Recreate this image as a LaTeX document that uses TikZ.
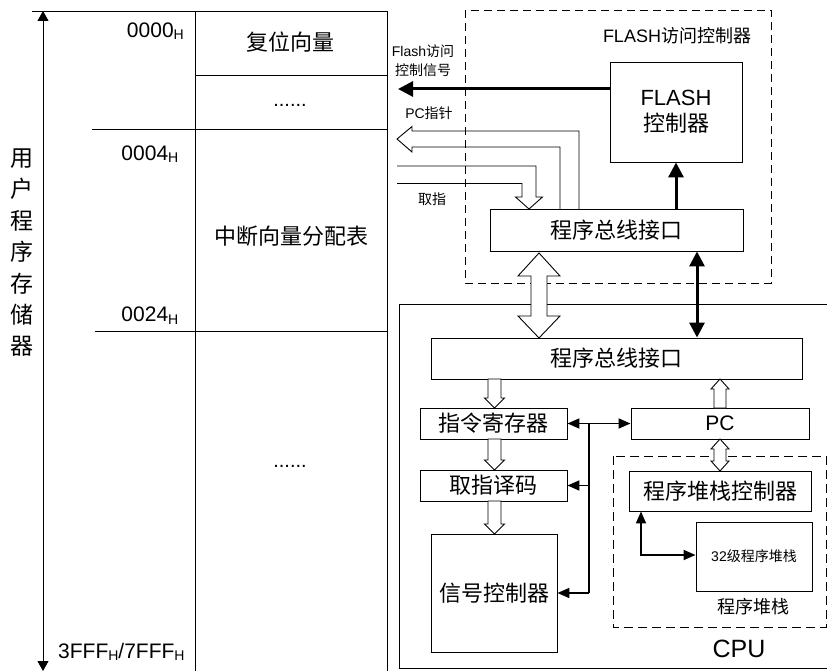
\documentclass[tikz,border=0pt]{standalone}
\usepackage{fontspec}
\setmainfont{Liberation Sans}
\newfontfamily\cjk{Noto Sans CJK SC}
\usetikzlibrary{arrows.meta,calc}
\newcommand\fs[1]{\fontsize{#1}{#1}\selectfont}
\newcommand\subH{\raisebox{-2.5pt}{\fs{14}H}}
\newcommand\myhdown[3]{\draw[hollowf] (#1-6.5,#2) -- (#1-6.5,#3-10) -- (#1-10,#3-10) -- (#1,#3) -- (#1+10,#3-10) -- (#1+6.5,#3-10) -- (#1+6.5,#2) -- cycle;}
\newcommand\myhup[3]{\draw[hollowf] (#1-6,#2) -- (#1-6,#3+10) -- (#1-9,#3+10) -- (#1,#3) -- (#1+9,#3+10) -- (#1+6,#3+10) -- (#1+6,#2) -- cycle;}
\begin{document}
\begin{tikzpicture}[x=1pt,y=-1pt,
  box/.style={draw, line width=0.9pt, fill=white, inner sep=0pt, align=center},
  cn/.style={font=\cjk\fs{22}},
  lbl/.style={inner sep=0pt},
  dashbox/.style={draw, line width=0.9pt, dash pattern=on 8pt off 5pt},
  thin/.style={line width=0.9pt},
  thk/.style={line width=3pt, -{Triangle[length=15pt,width=15pt]}},
  thkboth/.style={line width=3pt, {Triangle[length=15pt,width=15pt]}-{Triangle[length=15pt,width=15pt]}},
  bus/.style={line width=1.8pt, -{Triangle[length=12pt,width=10pt]}},
  busboth/.style={line width=1.8pt, {Triangle[length=12pt,width=10pt]}-{Triangle[length=12pt,width=10pt]}},
  hollow/.style={draw, line width=0.9pt, line join=miter},
  hollowf/.style={hollow, fill=white},
  memarrow/.style={line width=0.9pt, {Triangle[length=10pt,width=11pt]}-{Triangle[length=10pt,width=11pt]}}
]
\useasboundingbox (0,0) rectangle (827,671);
\fill[white] (0,0) rectangle (827,671);

% ---------------- memory map ----------------
\coordinate (memtop) at (43,11);
\coordinate (membot) at (43,671);
\draw[memarrow] (memtop) -- (membot);
\draw[thin] (32,11) -- (387,11);
\draw[thin] (195,11) -- (195,675);
\draw[thin] (387,11) -- (387,675);
\draw[thin] (195,75) -- (387,75);
\draw[thin] (92,129) -- (387,129);
\draw[thin] (95,331) -- (387,331);

\node[lbl, align=center, font=\cjk\fontsize{23}{31.4}\selectfont] (memname) at (22,252.7) {用\\户\\程\\序\\存\\储\\器};
\node[lbl, anchor=base east, font=\fs{21}] (a0) at (184,37.3) {0000\subH};
\node[lbl, anchor=base east, font=\fs{21}] (a4) at (178.5,160.5) {0004\subH};
\node[lbl, anchor=base east, font=\fs{21}] (a24) at (178.5,321.7) {0024\subH};
\node[lbl, anchor=base west, font=\fs{21}] (aend) at (58,658) {3FFF\subH/7FFF\subH};

\node[lbl, cn] (reset) at (290.5,42.5) {复位向量};
\node[lbl, anchor=base, font=\fs{20}] (dots1) at (290,106.5) {......};
\node[lbl, cn] (ivt) at (291,236.3) {中断向量分配表};
\node[lbl, anchor=base, font=\fs{20}] (dots2) at (290,467.5) {......};

% ---------------- FLASH access controller ----------------
\draw[dashbox] (465,10) rectangle (771,283);
\node[lbl, font=\fs{18}] (flashtitle) at (677,36) {FLASH{\cjk 访问控制器}};
\node[box, minimum width=132pt, minimum height=100pt, font=\fontsize{22}{26}\selectfont] (flashctl) at (676,112) {FLASH\\{\cjk 控制器}};
\node[box, cn, minimum width=253pt, minimum height=42pt] (bif1) at (616.5,230) {程序总线接口};

\coordinate (fsig) at (398,89);
\draw[thk] (flashctl.west |- fsig) -- (fsig);
\draw[thk] (bif1.north -| flashctl.south) -- (flashctl.south);

\node[lbl, align=center, font=\fontsize{14}{19}\selectfont] (sigl) at (423,61) {Flash{\cjk 访问}\\{\cjk 控制信号}};
\node[lbl, font=\fs{14}] (pcl) at (429,113) {PC{\cjk 指针}};
\node[lbl, font=\cjk\fs{14}] (fetchl) at (432,199.5) {取指};

% PC pointer hollow arrow (to the left)
\draw[hollow] (579,209) -- (579,131) -- (412,131) -- (412,126.5) -- (397,139) -- (412,152) -- (412,147) -- (560,147) -- (560,209);
% fetch hollow arrow (down into bus interface)
\draw[hollow] (397,166) -- (536,166) -- (536,197) -- (542.5,197) -- (529,209) -- (515.5,197) -- (522,197) -- (522,183.5) -- (397,183.5);

% ---------------- CPU ----------------
\draw[thin] (399,304) rectangle (840,668);
\node[lbl, font=\fs{25}] (cpul) at (739,648.5) {CPU};
\node[box, cn, minimum width=371pt, minimum height=41pt] (bif2) at (616.5,358.5) {程序总线接口};

% big hollow double arrow between the two bus interfaces
\draw[hollowf] (539,253) -- (560,276) -- (547,276) -- (547,316) -- (560,316) -- (539,338) -- (518,316) -- (531,316) -- (531,276) -- (518,276) -- cycle;
\coordinate (dx) at (697,0);
\draw[thkboth] (bif1.south -| dx) -- (bif2.north -| dx);

\node[box, cn, minimum width=147pt, minimum height=31pt] (ir) at (493.5,423.5) {指令寄存器};
\node[box, minimum width=178pt, minimum height=31pt, font=\fs{21}] (pc) at (720,423.5) {PC};
\node[box, cn, minimum width=147pt, minimum height=31pt] (dec) at (493.5,485.5) {取指译码};
\node[box, cn, minimum width=126pt, minimum height=118pt] (sig) at (494,593) {信号控制器};

\myhdown{494.5}{379}{408}
\myhdown{494.5}{439}{470}
\myhdown{494.5}{501}{534}
\myhup{720}{408}{379}

% internal bus
\coordinate (busx) at (589,0);
\draw[busboth] (ir.east) -- (pc.west);
\draw[line width=1.8pt] (ir.east -| busx) -- (sig.east -| busx);
\draw[bus] (dec.east -| busx) -- (dec.east);
\draw[bus] (sig.east -| busx) -- (sig.east);

% program stack
\draw[line width=0.9pt, dash pattern=on 9pt off 5pt] (613,456) rectangle (826,627);
\node[box, cn, minimum width=182pt, minimum height=40pt] (sctl) at (720,491) {程序堆栈控制器};
\node[box, minimum width=116pt, minimum height=69pt, font=\fs{14}] (stk) at (754,556.5) {32{\cjk 级程序堆栈}};
\node[lbl, font=\cjk\fs{18}] (stkl) at (753,606.5) {程序堆栈};

\draw[hollowf] (720,439) -- (729,449) -- (726,449) -- (726,461) -- (729,461) -- (720,471) -- (711,461) -- (714,461) -- (714,449) -- (711,449) -- cycle;

\coordinate (sk) at (641,555);
\draw[busboth] (sctl.south -| sk) -- (sk) -- (stk.west |- sk);
\end{tikzpicture}
\end{document}
